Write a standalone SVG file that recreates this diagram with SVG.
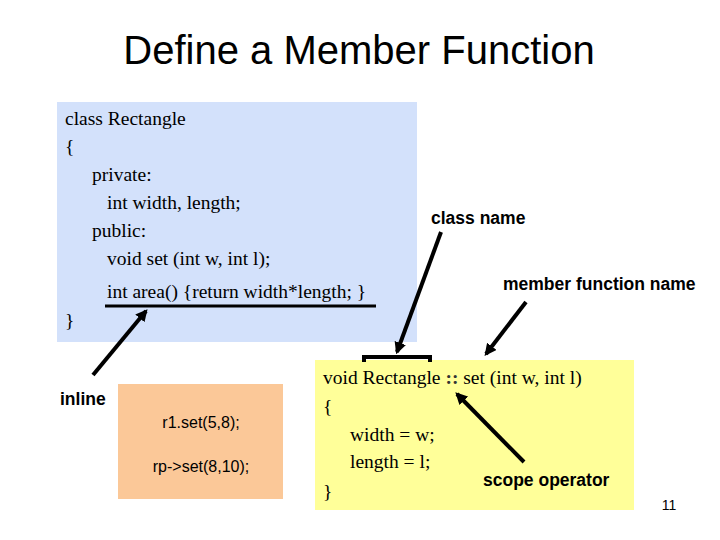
<svg xmlns="http://www.w3.org/2000/svg" width="720" height="540" viewBox="0 0 720 540">
<defs>
<style>
.code{font-family:"Liberation Serif",serif;font-size:19.5px;fill:#000}
.lab{font-family:"Liberation Sans",Arial,sans-serif;font-size:17.5px;font-weight:bold;fill:#000}
.call{font-family:"Liberation Sans",Arial,sans-serif;font-size:16px;fill:#000}
.ln{stroke:#000;stroke-width:4;fill:none}
</style>
<marker id="ah" viewBox="0 0 10 10" refX="8" refY="5" markerWidth="3" markerHeight="3" orient="auto"><path d="M0,0L10,5L0,10z" fill="#000"/></marker>
</defs>
<rect width="720" height="540" fill="#fff"/>
<text x="359" y="64" text-anchor="middle" font-family="Liberation Sans,Arial,sans-serif" font-size="40">Define a Member Function</text>
<g id="classbox">
<rect x="57" y="102" width="360" height="240" fill="#d3e1fb"/>
<text class="code" x="65" y="125">class Rectangle</text>
<text class="code" x="65" y="153">{</text>
<text class="code" x="92" y="181">private:</text>
<text class="code" x="107" y="209">int width, length;</text>
<text class="code" x="92" y="237">public:</text>
<text class="code" x="107" y="265">void set (int w, int l);</text>
<text class="code" x="107" y="298">int area() {return width*length; }</text>
<text class="code" x="65" y="327">}</text>
<line x1="105" y1="306" x2="376" y2="306" stroke="#000" stroke-width="3"/>
</g>
<g id="callbox">
<rect x="118" y="384" width="165" height="115" fill="#fbc898"/>
<text class="call" x="201" y="428" text-anchor="middle">r1.set(5,8);</text>
<text class="call" x="201" y="472" text-anchor="middle">rp-&gt;set(8,10);</text>
</g>
<g id="defbox">
<rect x="315" y="360" width="319" height="150" fill="#ffff99"/>
<text class="code" x="323" y="384">void Rectangle <tspan font-weight="bold" fill="#333">::</tspan> set (int w, int l)</text>
<text class="code" x="323" y="413">{</text>
<text class="code" x="350" y="441">width = w;</text>
<text class="code" x="350" y="468">length = l;</text>
<text class="code" x="323" y="498">}</text>
<path class="ln" d="M364,362 L364,357 L430,357 L430,362" stroke-width="3"/>
</g>
<g id="labels">
<text class="lab" x="60" y="405">inline</text>
<text class="lab" x="431" y="224">class name</text>
<text class="lab" x="503" y="290">member function name</text>
<text class="lab" x="483" y="486">scope operator</text>
<text x="669" y="510" text-anchor="middle" font-family="Liberation Sans,Arial,sans-serif" font-size="14">11</text>
</g>
<g id="connectors">
<line class="ln" x1="93" y1="375" x2="146" y2="311" marker-end="url(#ah)"/>
<line class="ln" x1="441" y1="232" x2="397" y2="352" marker-end="url(#ah)"/>
<line class="ln" x1="526" y1="302" x2="486" y2="354" marker-end="url(#ah)"/>
<line class="ln" x1="524" y1="462" x2="457" y2="394" marker-end="url(#ah)"/>
</g>
</svg>
